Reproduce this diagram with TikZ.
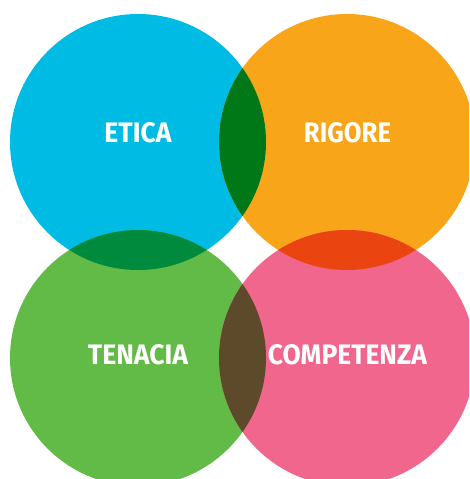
\documentclass[tikz,border=0pt]{standalone}
\usepackage{fontspec}
\setmainfont{Fira Sans}
\usepackage{graphicx}
\definecolor{ccyan}{RGB}{0,188,228}
\definecolor{corange}{RGB}{249,165,26}
\definecolor{cgreen}{RGB}{98,187,70}
\definecolor{cpink}{RGB}{240,102,141}
\definecolor{ccyor}{RGB}{0,120,24}
\definecolor{ccygr}{RGB}{0,138,62}
\definecolor{corpk}{RGB}{234,68,16}
\definecolor{cgrpk}{RGB}{93,74,42}
\tikzset{
  lbl/.style={text=white, inner sep=0pt, font=\bfseries}
}
\newcommand{\lab}[2]{\resizebox{#1pt}{20pt}{#2}}
\begin{document}
\begin{tikzpicture}[x=1pt,y=-1pt]
\useasboundingbox (0,0) rectangle (469,479);
\clip (0,0) rectangle (469,479);
\fill[white] (0,0) rectangle (469,479);
\fill[ccyan] (138,142) circle (128);
\fill[corange] (347,142) circle (128);
\fill[cgreen] (138,358) circle (128);
\fill[cpink] (347,358) circle (128);
\begin{scope}
  \clip (138,142) circle (128);
  \fill[ccyor] (347,142) circle (128);
  \fill[ccygr] (138,358) circle (128);
\end{scope}
\begin{scope}
  \clip (347,358) circle (128);
  \fill[corpk] (347,142) circle (128);
  \fill[cgrpk] (138,358) circle (128);
\end{scope}
\node[lbl] (etica) at (138,133) {\lab{67}{ETICA}};
\node[lbl] (rigore) at (347.5,133) {\lab{87}{RIGORE}};
\node[lbl] (tenacia) at (138,355) {\lab{100}{TENACIA}};
\node[lbl] (comp) at (347.5,355) {\lab{159}{COMPETENZA}};
\end{tikzpicture}
\end{document}
